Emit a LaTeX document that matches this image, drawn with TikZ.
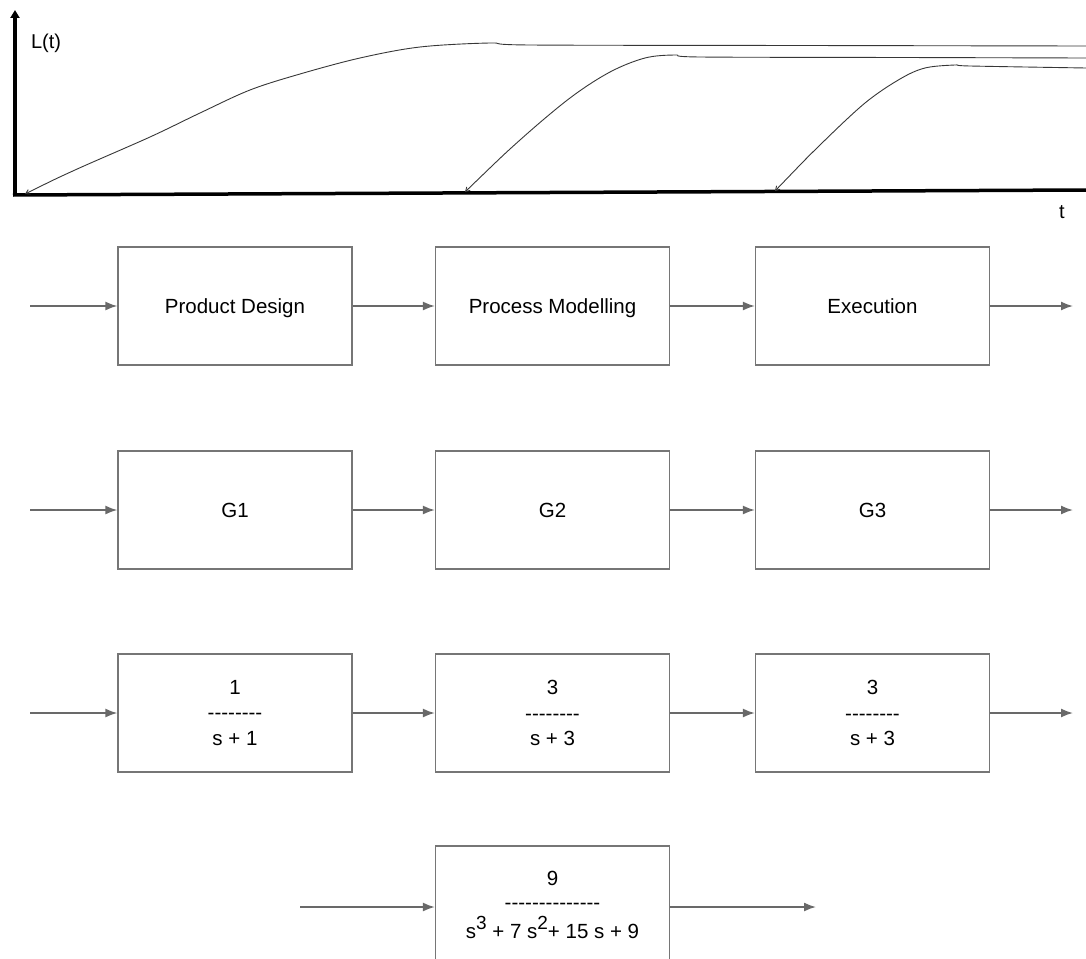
\documentclass[tikz,border=0pt]{standalone}
\usepackage{fontspec}
\setmainfont{Liberation Sans}
\usetikzlibrary{arrows.meta}
\definecolor{boxgray}{RGB}{118,118,118}
\definecolor{arrgray}{RGB}{105,105,105}
\definecolor{curvegray}{RGB}{55,55,55}
\newcommand{\hy}{-\kern0pt}
\newcommand{\supr}[1]{\raisebox{0.42em}{\fontsize{19}{19}\selectfont #1}}
\tikzset{
  blockbox/.style={draw=boxgray, line width=1.3pt, minimum width=234pt, minimum height=118pt,
    inner sep=0pt, align=center, font=\fontsize{20.5}{26}\selectfont},
  oneline/.style={text height=14pt, text depth=0pt},
  flowarrow/.style={draw=arrgray, line width=1.6pt, -{Latex[length=12pt,width=9pt]}},
  curve/.style={draw=curvegray, line width=0.9pt, smooth, tension=0.55},
  axis/.style={draw=black, line width=3.5pt},
  lbl/.style={font=\fontsize{20}{24}\selectfont, inner sep=0pt}
}
\begin{document}
\begin{tikzpicture}[x=1pt,y=-1pt]
\useasboundingbox (0,0) rectangle (1086,958);
\clip (0,0) rectangle (1086,958);
% axes
\coordinate (O) at (15,195);
\coordinate (Ytop) at (15,10);
\coordinate (Xend) at (1086,190);
\draw[axis, -{Triangle[length=8pt,width=9pt]}] (O) -- (Ytop);
\draw[axis] (13,195) -- (Xend);
\node[lbl] (Lt) at (46,43) {L(t)};
\node[lbl] (tl) at (1062,212) {t};
% curves
\draw[curve, {Straight Barb[length=4pt,width=5pt]}-] plot coordinates {(25,194) (75,170) (150,137) (200,113) (250,90) (300,74) (360,58) (420,47) (490,43) (530,45) (800,45.5) (1086,46)};
\draw[curve, {Straight Barb[length=4pt,width=5pt]}-] plot coordinates {(465,192) (520,140) (570,98) (610,72) (645,58) (675,55) (700,57) (900,57.5) (1086,58)};
\draw[curve, {Straight Barb[length=4pt,width=5pt]}-] plot coordinates {(775,191) (820,145) (865,103) (900,79) (925,68) (955,65) (970,66) (1086,68)};
% row 1
\node[blockbox, oneline] (pd) at (235,306) {Product Design};
\node[blockbox, oneline] (pm) at (552.5,306) {Process Modelling};
\node[blockbox, oneline] (ex) at (872.5,306) {Execution};
\coordinate (in1) at (30,306);
\coordinate (out1) at (1073,306);
\draw[flowarrow] (in1) -- (pd);
\draw[flowarrow] (pd) -- (pm);
\draw[flowarrow] (pm) -- (ex);
\draw[flowarrow] (ex) -- (out1);
% row 2
\node[blockbox, oneline] (g1) at (235,510) {G1};
\node[blockbox, oneline] (g2) at (552.5,510) {G2};
\node[blockbox, oneline] (g3) at (872.5,510) {G3};
\coordinate (in2) at (30,510);
\coordinate (out2) at (1073,510);
\draw[flowarrow] (in2) -- (g1);
\draw[flowarrow] (g1) -- (g2);
\draw[flowarrow] (g2) -- (g3);
\draw[flowarrow] (g3) -- (out2);
% row 3
\node[blockbox] (t1) at (235,713) {1\\[-0.5pt]\hy\hy\hy\hy\hy\hy\hy\hy\\[-0.5pt]s + 1};
\node[blockbox] (t2) at (552.5,713) {3\\[-0.5pt]\hy\hy\hy\hy\hy\hy\hy\hy\\[-0.5pt]s + 3};
\node[blockbox] (t3) at (872.5,713) {3\\[-0.5pt]\hy\hy\hy\hy\hy\hy\hy\hy\\[-0.5pt]s + 3};
\coordinate (in3) at (30,713);
\coordinate (out3) at (1073,713);
\draw[flowarrow] (in3) -- (t1);
\draw[flowarrow] (t1) -- (t2);
\draw[flowarrow] (t2) -- (t3);
\draw[flowarrow] (t3) -- (out3);
% row 4
\node[blockbox] (tt) at (552.5,905) {9\\[-2pt]\hy\hy\hy\hy\hy\hy\hy\hy\hy\hy\hy\hy\hy\hy\\[3pt]s\supr{3} + 7 s\supr{2}+ 15 s + 9};
\coordinate (in4) at (300,907);
\coordinate (out4) at (816,907);
\draw[flowarrow] (in4) -- (tt.west |- in4);
\draw[flowarrow] (tt.east |- out4) -- (out4);
\end{tikzpicture}
\end{document}
